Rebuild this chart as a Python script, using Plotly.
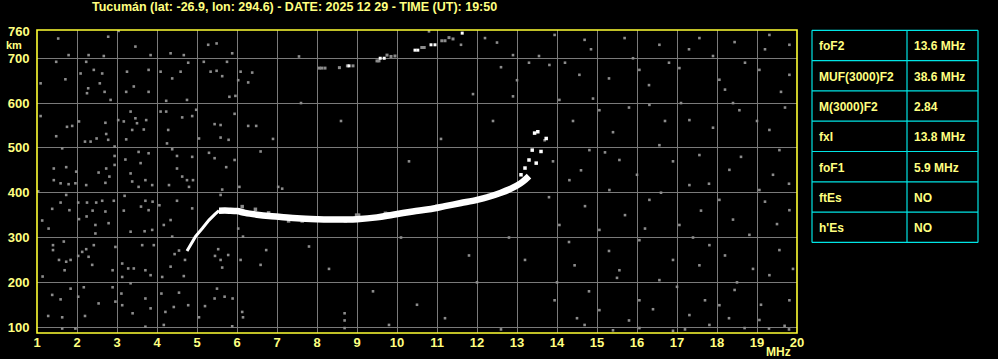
import plotly.graph_objects as go

# ---------------- data ----------------
title_text = "Tucumán (lat: -26.9, lon: 294.6) - DATE: 2025 12 29 - TIME (UT): 19:50"
x_ticks = list(range(1, 21))
y_ticks = [100, 200, 300, 400, 500, 600, 700]

# O-mode low part of F trace
o_low_f = [4.75, 4.85, 4.96, 5.13, 5.30, 5.45, 5.55]
o_low_h = [270, 285, 302, 320, 339, 352, 360]

# main F-layer band
band_f = [5.55, 5.8, 6.0, 6.2, 6.5, 6.8, 7.1, 7.5, 8.0, 8.5, 9.0, 9.5, 9.9, 10.4, 10.8, 11.2, 11.6, 12.0, 12.3, 12.6, 12.8, 13.0, 13.15, 13.3]
band_h = [360, 360, 359, 355, 351, 348, 346, 343, 341, 340, 341, 345, 351, 358, 363, 370, 377, 384, 391, 400, 407, 416, 425, 437]

# cusp echoes near foF2 / fxI
cusp_f = [13.10, 13.30, 13.38, 13.48, 13.60, 13.73, 13.20, 13.44, 13.52]
cusp_h = [440, 473, 495, 466, 492, 521, 455, 533, 536]

# grey secondary echoes along the band
sec_f = [6.13, 6.46, 6.79, 7.29, 7.63, 8.71, 9.04, 9.71, 8.99, 9.76, 11.0, 12.3, 12.7]
sec_h = [369, 363, 355, 337, 337, 337, 350, 354, 350, 353, 370, 394, 404]

# second-hop echoes (white and grey)
hop2_white_f = [8.80, 9.58, 9.68, 10.45, 10.52, 10.85, 10.95, 11.63]
hop2_white_h = [683, 700, 700, 718, 718, 730, 730, 756]
hop2_grey_f = [8.06, 8.12, 8.20, 8.56, 8.76, 8.90, 9.50, 9.55, 9.75, 9.85, 9.95, 10.62, 10.68, 11.12, 11.20, 11.30, 11.40]
hop2_grey_h = [678, 678, 678, 679, 683, 683, 694, 694, 707, 704, 705, 724, 724, 739, 739, 746, 743]

# background noise dots (read approximately)
noise_f = [
    1.53, 1.79, 2.29, 2.67, 2.78, 3.04, 3.46, 3.84, 4.34, 4.67, 5.28, 5.49, 5.88, 1.48, 2.23, 2.09, 2.42, 2.63,
    1.71, 1.09, 2.28, 2.25, 2.57, 2.69, 2.84, 3.25, 3.42, 3.23, 3.79, 3.79, 4.09, 4.38, 4.59, 4.23, 4.75, 4.78,
    5.17, 5.34, 5.49, 5.63, 5.75, 5.81, 5.96, 6.09, 6.38, 6.03, 6.28, 7.55, 1.09, 1.48, 1.75, 1.88, 2.05, 2.20,
    2.34, 2.49, 2.71, 2.73, 2.78, 3.03, 3.17, 3.34, 3.46, 3.50, 3.38, 3.67, 3.73, 3.23, 4.09, 4.23, 4.28, 4.63,
    4.88, 4.98, 5.05, 5.44, 5.59, 5.79, 5.59, 5.94, 6.28, 6.48, 1.63, 1.42, 1.73, 1.98, 1.96, 1.79, 1.59, 1.42,
    2.23, 2.54, 2.73, 2.81, 2.71, 2.94, 2.94, 2.94, 3.21, 3.34, 3.38, 3.54, 3.59, 3.79, 3.71, 3.88, 3.54, 4.25,
    4.38, 4.50, 4.50, 4.63, 4.75, 4.90, 4.80, 4.30, 4.88, 5.30, 5.44, 5.73, 5.94, 5.63, 6.06, 6.59, 7.03, 7.13,
    1.03, 1.59, 1.73, 2.03, 2.25, 2.48, 2.63, 2.92, 3.19, 1.38, 1.13, 1.29, 1.81, 2.05, 2.24, 2.39, 2.46, 2.46,
    2.71, 2.79, 3.17, 3.34, 3.60, 3.71, 3.79, 3.88, 3.69, 3.89, 4.06, 4.17, 4.34, 4.38, 4.50, 4.88, 5.59, 6.03,
    6.15, 1.40, 1.40, 1.55, 1.67, 1.73, 1.84, 1.69, 1.14, 2.03, 2.13, 2.23, 2.29, 2.38, 2.42, 2.89, 2.96, 3.13,
    3.28, 3.42, 3.13, 3.63, 3.84, 3.71, 3.92, 4.13, 4.34, 4.44, 4.55, 4.70, 4.67, 5.45, 5.53, 5.59, 5.78, 5.63,
    6.09, 6.59, 6.73, 1.38, 1.59, 1.84, 2.03, 2.17, 2.20, 1.63, 1.28, 2.54, 2.89, 2.96, 3.11, 3.13, 3.34, 3.39,
    3.71, 3.84, 4.11, 4.21, 4.42, 4.55, 4.78, 5.05, 5.20, 5.50, 5.44, 5.69, 5.89, 6.13, 6.15, 8.69, 8.69, 8.69,
    1.63, 1.96, 3.71, 4.17, 5.88,
    13.94, 14.69, 15.69, 16.56, 17.56, 18.44, 19.31, 19.81, 13.81, 14.56, 16.06, 17.06, 18.06, 19.06, 19.81,
    14.06, 15.06, 16.31, 17.31, 18.56, 19.31, 13.69, 14.81, 15.56, 16.56, 17.56, 18.31, 19.56, 14.31, 15.31,
    16.31, 17.31, 18.06, 19.06, 19.81, 14.06, 15.06, 16.06, 17.06, 17.81, 18.81, 19.56, 14.44, 15.56, 16.56,
    17.56, 18.44, 19.31, 13.94, 15.06, 16.06, 17.31, 18.06, 19.06, 19.81, 14.69, 16.06, 17.81, 18.69, 19.69,
    13.55, 14.20, 14.85, 15.30, 15.90, 16.30, 16.80, 17.30, 17.90, 18.20, 18.70, 19.20, 19.60, 14.40, 14.90,
    15.40, 15.80, 16.70, 17.10, 17.90, 18.40, 19.00, 19.70, 13.90, 14.60, 15.20, 16.00, 16.90, 17.80, 18.60,
    19.40, 13.80, 14.70, 15.70, 16.60, 17.60, 18.40, 19.20, 19.80, 14.30, 15.30, 16.20, 16.90, 17.40, 18.20,
    18.90, 19.50, 14.00, 14.80, 15.50, 16.40, 17.00, 17.70, 18.50, 19.10, 19.90, 14.50, 15.80, 17.20, 18.30,
    19.30, 19.80, 16.90, 15.40,
    12.90, 13.00, 12.60, 12.50, 12.20, 11.90, 12.90, 13.30, 10.80, 11.60, 9.80, 10.50, 11.20, 12.00, 12.60,
    11.80, 7.80, 8.30, 9.40, 10.10, 12.80, 13.20, 12.40, 11.10, 10.30, 7.60, 8.60, 6.90,
]
noise_h = [
    744, 707, 707, 705, 748, 761, 726, 707, 711, 707, 730, 733, 711, 692, 692, 666, 674, 666,
    653, 644, 633, 622, 644, 625, 607, 670, 637, 625, 674, 625, 670, 655, 670, 605, 607, 690,
    692, 670, 672, 660, 692, 614, 616, 670, 668, 651, 646, 704, 571, 526, 547, 549, 559, 514,
    514, 521, 556, 531, 518, 562, 559, 581, 566, 555, 540, 541, 562, 519, 581, 581, 540, 568,
    571, 585, 521, 553, 551, 518, 523, 576, 549, 549, 499, 454, 457, 447, 421, 419, 421, 428,
    417, 445, 454, 436, 422, 503, 482, 462, 474, 443, 425, 491, 466, 488, 428, 417, 413, 510,
    497, 482, 454, 436, 428, 428, 413, 417, 480, 489, 477, 457, 473, 407, 413, 492, 413, 409,
    403, 378, 395, 378, 378, 378, 382, 382, 393, 364, 338, 320, 361, 341, 347, 360, 309, 328,
    358, 332, 360, 313, 369, 382, 361, 317, 314, 380, 372, 328, 339, 302, 382, 365, 395, 320,
    302, 283, 272, 250, 291, 246, 250, 227, 213, 259, 268, 274, 257, 239, 283, 227, 279, 242,
    231, 231, 212, 283, 216, 227, 283, 212, 235, 263, 271, 250, 214, 259, 274, 250, 261, 233,
    250, 239, 272, 172, 162, 186, 168, 189, 125, 122, 125, 153, 189, 157, 175, 149, 198, 131,
    164, 142, 175, 134, 145, 177, 149, 122, 147, 186, 164, 168, 164, 134, 122, 131, 115, 98,
    97, 97, 101, 105, 102,
    752, 741, 745, 730, 745, 736, 752, 730, 685, 663, 674, 678, 652, 674, 663,
    607, 584, 596, 562, 584, 540, 517, 495, 473, 506, 484, 451, 495, 428, 406,
    384, 417, 384, 406, 361, 328, 317, 294, 328, 283, 306, 272, 238, 227, 205,
    238, 183, 216, 160, 138, 160, 127, 149, 116, 160, 105, 98, 105, 98, 103,
    705, 690, 720, 655, 700, 640, 690, 720, 705, 630, 690, 720, 625, 560, 610,
    535, 590, 560, 600, 545, 600, 560, 590, 470, 450, 490, 440, 470, 420, 480,
    440, 390, 370, 350, 400, 360, 340, 380, 420, 290, 270, 320, 250, 300, 260,
    230, 330, 200, 180, 210, 140, 190, 160, 200, 150, 230, 120, 115, 95, 120,
    97, 95, 92, 93,
    707, 651, 680, 735, 745, 620, 615, 690, 760, 730, 105, 150, 120, 200, 95,
    260, 280, 230, 180, 300, 300, 250, 560, 520, 470, 600, 560, 520,
]

table_labels = ["foF2", "MUF(3000)F2", "M(3000)F2", "fxI", "foF1", "ftEs", "h'Es"]
table_values = ["13.6 MHz", "38.6 MHz", "2.84", "13.8 MHz", "5.9 MHz", "NO", "NO"]

# ---------------- style ----------------
YEL_TXT = "#FFFF80"
YEL_BORDER = "#FFFF33"
GRID = "#7a7a7a"
NOISE = "#8c8c8c"
CYAN = "#00E5E5"
FONT = "Liberation Sans"

W, H = 998, 359
ML, MR, MT, MB = 37, 201, 30, 26
PW, PH = W - ML - MR, H - MT - MB

fig = go.Figure()

fig.add_trace(go.Scatter(x=noise_f, y=noise_h, mode="markers",
                         marker=dict(symbol="square", size=2.6, color=NOISE, line=dict(width=0)),
                         hoverinfo="skip"))
fig.add_trace(go.Scatter(x=sec_f, y=sec_h, mode="markers",
                         marker=dict(symbol="square", size=3.5, color=NOISE, line=dict(width=0)),
                         hoverinfo="skip"))
fig.add_trace(go.Scatter(x=hop2_grey_f, y=hop2_grey_h, mode="markers",
                         marker=dict(symbol="square", size=3, color=NOISE, line=dict(width=0)),
                         hoverinfo="skip"))
fig.add_trace(go.Scatter(x=hop2_white_f, y=hop2_white_h, mode="markers",
                         marker=dict(symbol="square", size=3, color="white", line=dict(width=0)),
                         hoverinfo="skip"))
fig.add_trace(go.Scatter(x=o_low_f, y=o_low_h, mode="lines",
                         line=dict(color="white", width=3), hoverinfo="skip"))
fig.add_trace(go.Scatter(x=band_f, y=band_h, mode="lines",
                         line=dict(color="white", width=6.5, shape="spline"), hoverinfo="skip"))
fig.add_trace(go.Scatter(x=cusp_f, y=cusp_h, mode="markers",
                         marker=dict(symbol="square", size=3.5, color="white", line=dict(width=0)),
                         hoverinfo="skip"))

fig.update_layout(
    width=W, height=H, showlegend=False,
    paper_bgcolor="black", plot_bgcolor="black",
    margin=dict(l=ML, r=MR, t=MT, b=MB, pad=0, autoexpand=False),
    font=dict(family=FONT, color=YEL_TXT, size=13, weight="bold"),
)
fig.update_xaxes(range=[1, 20], tickvals=x_ticks, ticktext=[str(v) for v in x_ticks],
                 showgrid=True, gridcolor=GRID, gridwidth=1, zeroline=False, showline=False,
                 ticks="", automargin=False,
                 tickfont=dict(family=FONT, color=YEL_TXT, size=13, weight="bold"))
fig.update_yaxes(range=[87, 763], tickvals=y_ticks, ticktext=[str(v) for v in y_ticks],
                 showgrid=True, gridcolor=GRID, gridwidth=1, zeroline=False, showline=False,
                 ticks="outside", ticklen=4, tickcolor="black", automargin=False,
                 tickfont=dict(family=FONT, color=YEL_TXT, size=13, weight="bold"))

shapes = [dict(type="rect", xref="paper", yref="paper", x0=0, x1=1, y0=0, y1=1,
               line=dict(color=YEL_BORDER, width=1.6), layer="above")]
annotations = []

def px_x(px):
    return (px - ML) / PW

def px_y(py):
    return (H - MB - py) / PH

annotations.append(dict(text=title_text, xref="paper", yref="paper", x=px_x(294), y=px_y(7),
                        showarrow=False, xanchor="center", yanchor="middle",
                        font=dict(family=FONT, color=YEL_TXT, size=12.5, weight="bold")))
annotations.append(dict(text="760", xref="paper", yref="paper", x=px_x(32), y=px_y(31),
                        showarrow=False, xanchor="right", yanchor="middle",
                        font=dict(family=FONT, color=YEL_TXT, size=13, weight="bold")))
annotations.append(dict(text="km", xref="paper", yref="paper", x=px_x(14), y=px_y(45),
                        showarrow=False, xanchor="center", yanchor="middle",
                        font=dict(family=FONT, color=YEL_TXT, size=11, weight="bold")))
annotations.append(dict(text="MHz", xref="paper", yref="paper", x=px_x(778), y=px_y(352),
                        showarrow=False, xanchor="center", yanchor="middle",
                        font=dict(family=FONT, color=YEL_TXT, size=12, weight="bold")))

# table
tx0, tx1, tdiv = 812, 978, 907
row_h = 30.3
ty0 = 30.3
n = len(table_labels)
for i in range(n + 1):
    yy = px_y(ty0 + i * row_h)
    shapes.append(dict(type="line", xref="paper", yref="paper", x0=px_x(tx0), x1=px_x(tx1),
                       y0=yy, y1=yy, line=dict(color=CYAN, width=1.2)))
for xx in (tx0, tdiv, tx1):
    shapes.append(dict(type="line", xref="paper", yref="paper", x0=px_x(xx), x1=px_x(xx),
                       y0=px_y(ty0), y1=px_y(ty0 + n * row_h), line=dict(color=CYAN, width=1.2)))
for i, (lab, val) in enumerate(zip(table_labels, table_values)):
    yc = px_y(ty0 + (i + 0.5) * row_h + 1)
    annotations.append(dict(text=lab, xref="paper", yref="paper", x=px_x(817), y=yc,
                            showarrow=False, xanchor="left", yanchor="middle",
                            font=dict(family=FONT, color=YEL_TXT, size=12, weight="bold")))
    annotations.append(dict(text=val, xref="paper", yref="paper", x=px_x(912), y=yc,
                            showarrow=False, xanchor="left", yanchor="middle",
                            font=dict(family=FONT, color=YEL_TXT, size=12, weight="bold")))

fig.update_layout(shapes=shapes, annotations=annotations)
fig.write_html("out.html")
